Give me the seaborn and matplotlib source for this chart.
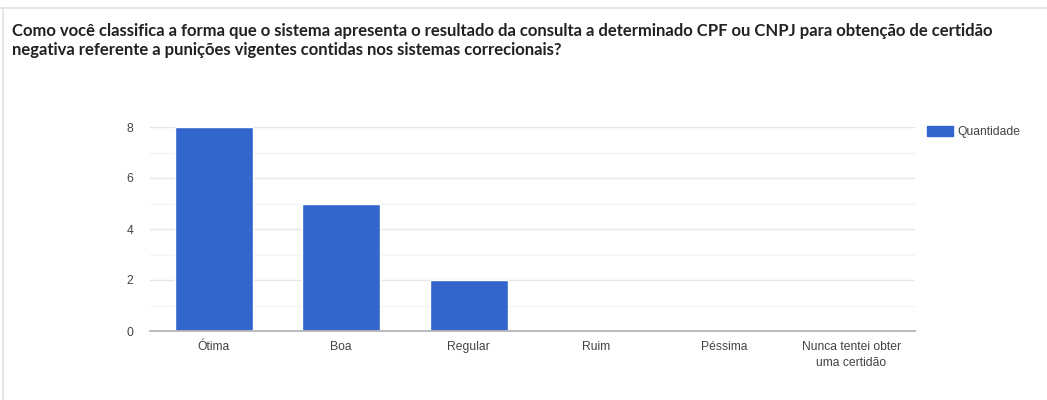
import matplotlib
matplotlib.use("Agg")
import matplotlib.pyplot as plt
from matplotlib.lines import Line2D
from matplotlib.patches import Patch
import seaborn as sns
import pandas as pd

categories = ["Ótima", "Boa", "Regular", "Ruim", "Péssima", "Nunca tentei obter\numa certidão"]
quantidade = [8, 5, 2, 0, 0, 0]
series_name = "Quantidade"
title = ("Como você classifica a forma que o sistema apresenta o resultado da consulta a determinado CPF ou CNPJ para obtenção de certidão\n"
         "negativa referente a punições vigentes contidas nos sistemas correcionais?")

BAR = "#3366cc"
TXT = "#444444"

sns.set_theme(style="white")
plt.rcParams["font.family"] = ["Liberation Sans", "DejaVu Sans"]

df = pd.DataFrame({"cat": categories, "val": quantidade, "serie": series_name})

fig = plt.figure(figsize=(10.47, 4.0), dpi=100)
W, H = 1047, 400
ax = fig.add_axes([150 / W, 1 - 331 / H, (915 - 150) / W, (331 - 127) / H])

sns.barplot(data=df, x="cat", y="val", hue="serie", palette=[BAR],
            width=0.61, saturation=1, ax=ax, legend=False, zorder=3)

ax.set_ylim(0, 8)
ax.set_xlim(-0.5, len(categories) - 0.5)
ax.set_yticks([0, 2, 4, 6, 8])
ax.set_yticks([1, 3, 5, 7], minor=True)
ax.grid(axis="y", which="major", color="#e6e6e6", linewidth=1, zorder=0)
ax.grid(axis="y", which="minor", color="#f4f4f4", linewidth=1, zorder=0)
ax.grid(axis="x", visible=False)
for s in ["top", "right", "left"]:
    ax.spines[s].set_visible(False)
ax.spines["bottom"].set_color("#b5b5b5")
ax.spines["bottom"].set_linewidth(1.3)
ax.spines["bottom"].set_zorder(4)
ax.set_xlabel("")
ax.set_ylabel("")
ax.tick_params(axis="both", which="both", length=0, labelsize=8.7, labelcolor=TXT)
ax.tick_params(axis="y", pad=12)
ax.tick_params(axis="x", pad=7)
for lbl in ax.get_xticklabels():
    lbl.set_linespacing(1.45)

ax.legend(handles=[Patch(facecolor=BAR, edgecolor=BAR, label=series_name)],
          loc="upper left", bbox_to_anchor=(1.0092, 1.03), frameon=False,
          fontsize=8.7, handlelength=2.15, handleheight=0.95, labelcolor=TXT,
          handletextpad=0.4, borderaxespad=0)

fig.text(12 / W, 1 - 23 / H, title, ha="left", va="top", fontsize=12.0,
         fontweight="bold", color="#222222", family=["Lato", "DejaVu Sans"],
         linespacing=1.2)

# card border
fig.add_artist(Line2D([0, 1], [1 - 8 / H, 1 - 8 / H], color="#e2e2e2", linewidth=1.2))
fig.add_artist(Line2D([3 / W, 3 / W], [0, 1 - 8 / H], color="#e2e2e2", linewidth=1.2))

fig.savefig("out.png", dpi=100, facecolor="white")
